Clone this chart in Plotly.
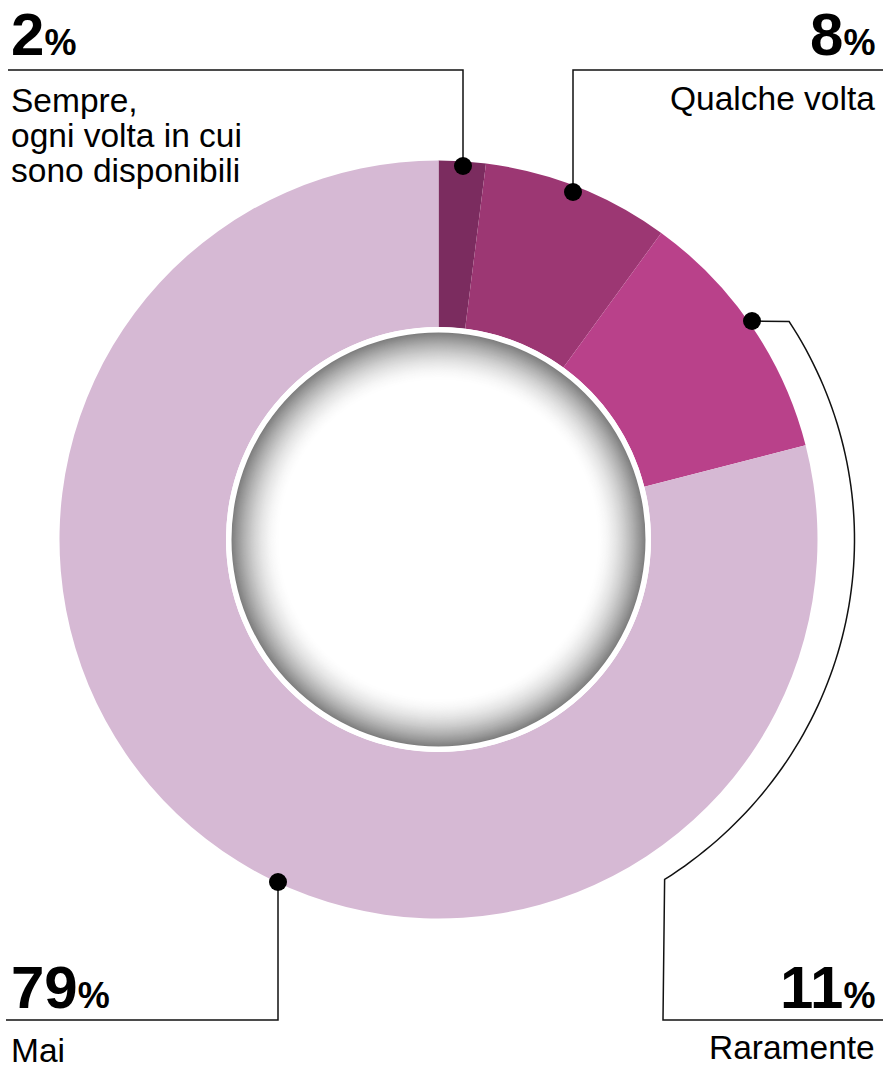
import numpy as np
import plotly.graph_objects as go

# ---- data ----
categories = ["Sempre, ogni volta in cui sono disponibili", "Qualche volta", "Raramente", "Mai"]
shares = [2, 8, 11, 79]
slice_colors = ["#7b2c5f", "#9c3773", "#b9418a", "#d6b9d4"]

W, H = 883, 1068
FONT = "Liberation Sans, Arial, Helvetica, sans-serif"

# donut geometry in pixels
CX, CY = 438.5, 539.5
R_OUT = 379.0
R_HOLE = 212.5

fig = go.Figure()

fig.add_trace(go.Pie(
    labels=categories,
    values=shares,
    sort=False,
    direction="clockwise",
    rotation=0,
    hole=R_HOLE / R_OUT,
    marker=dict(colors=slice_colors, line=dict(width=0)),
    textinfo="none",
    hoverinfo="label+percent",
    showlegend=False,
    domain=dict(
        x=[(CX - R_OUT) / W, (CX + R_OUT) / W],
        y=[(H - CY - R_OUT) / H, (H - CY + R_OUT) / H],
    ),
))

# invisible pixel-space axes for decorations
fig.add_trace(go.Scatter(x=[0, W], y=[0, H], mode="markers",
                         marker=dict(opacity=0), hoverinfo="skip", showlegend=False))

shapes = []

# white rim and soft inner shading of the hole
shapes.append(dict(type="circle", xref="x", yref="y", layer="above",
                   x0=CX - R_HOLE, x1=CX + R_HOLE, y0=CY - R_HOLE, y1=CY + R_HOLE,
                   fillcolor="white", line=dict(width=0)))
rim = 5.5
depth = 48
for i in range(depth + 1):
    t = i / depth
    r = R_HOLE - rim - i
    v = int(round(255 - 128 * (1 - t) ** 1.7))
    shapes.append(dict(type="circle", xref="x", yref="y", layer="above",
                       x0=CX - r, x1=CX + r, y0=CY - r, y1=CY + r,
                       fillcolor=f"rgb({v},{v},{v})", line=dict(width=0)))

LINE = dict(color="#111111", width=1.5)


def path_from(points):
    return "M " + " L ".join(f"{x:.2f},{y:.2f}" for x, y in points)


# leader lines
shapes.append(dict(type="path", xref="x", yref="y", layer="above",
                   path=path_from([(463, 166), (463, 70), (8, 70)]), line=LINE))
shapes.append(dict(type="path", xref="x", yref="y", layer="above",
                   path=path_from([(573, 192), (573, 70), (883, 70)]), line=LINE))
shapes.append(dict(type="path", xref="x", yref="y", layer="above",
                   path=path_from([(278, 882), (278, 1020), (6, 1020)]), line=LINE))

# curved leader wrapping around the right side
ARC_RX, ARC_RY = 416.0, 405.0
t0 = np.arctan2(-218.5 / ARC_RY, 351.5 / ARC_RX)
t1 = np.arctan2(337.5 / ARC_RY, 224.5 / ARC_RX)
ts = np.linspace(t0, t1, 80)
arc = [(CX + ARC_RX * np.cos(t), CY + ARC_RY * np.sin(t)) for t in ts]
shapes.append(dict(type="path", xref="x", yref="y", layer="above",
                   path=path_from([(752, 321)] + arc + [(663, 1020), (883, 1020)]),
                   line=LINE))

# anchor dots
DOT_R = 9
for (dx, dy) in [(463, 166), (573, 192), (752, 321), (278, 882)]:
    shapes.append(dict(type="circle", xref="x", yref="y", layer="above",
                       x0=dx - DOT_R, x1=dx + DOT_R, y0=dy - DOT_R, y1=dy + DOT_R,
                       fillcolor="black", line=dict(width=0)))

fig.update_layout(shapes=shapes)

# ---- text ----
BIG, PCT, BODY = 60, 36, 33.5


def big_label(value):
    return f"<b>{value}<span style='font-size:{PCT}px'>%</span></b>"


def ann(text, x, baseline, size, anchor):
    # place a single text line by its baseline
    return dict(text=text, x=x, y=baseline - 0.345 * size, xref="x", yref="y",
                xanchor=anchor, yanchor="middle", showarrow=False, borderpad=0,
                font=dict(family=FONT, size=size, color="black"))


annotations = [
    ann(big_label(shares[0]), 10, 55.5, BIG, "left"),
    ann("Sempre,", 10, 112, BODY, "left"),
    ann("ogni volta in cui", 10, 147, BODY, "left"),
    ann("sono disponibili", 10, 182, BODY, "left"),
    ann(big_label(shares[1]), 876, 55.5, BIG, "right"),
    ann(categories[1], 876, 110, BODY, "right"),
    ann(big_label(shares[3]), 10, 1008, BIG, "left"),
    ann(categories[3], 10, 1062, BODY, "left"),
    ann(big_label(shares[2]), 876, 1008, BIG, "right"),
    ann(categories[2], 876, 1059, BODY, "right"),
]

fig.update_layout(
    width=W, height=H,
    margin=dict(l=0, r=0, t=0, b=0),
    paper_bgcolor="white", plot_bgcolor="rgba(0,0,0,0)",
    xaxis=dict(range=[0, W], visible=False, fixedrange=True),
    yaxis=dict(range=[H, 0], visible=False, fixedrange=True),
    annotations=annotations,
    showlegend=False,
)

fig.write_html("out.html", config={"displayModeBar": False})
